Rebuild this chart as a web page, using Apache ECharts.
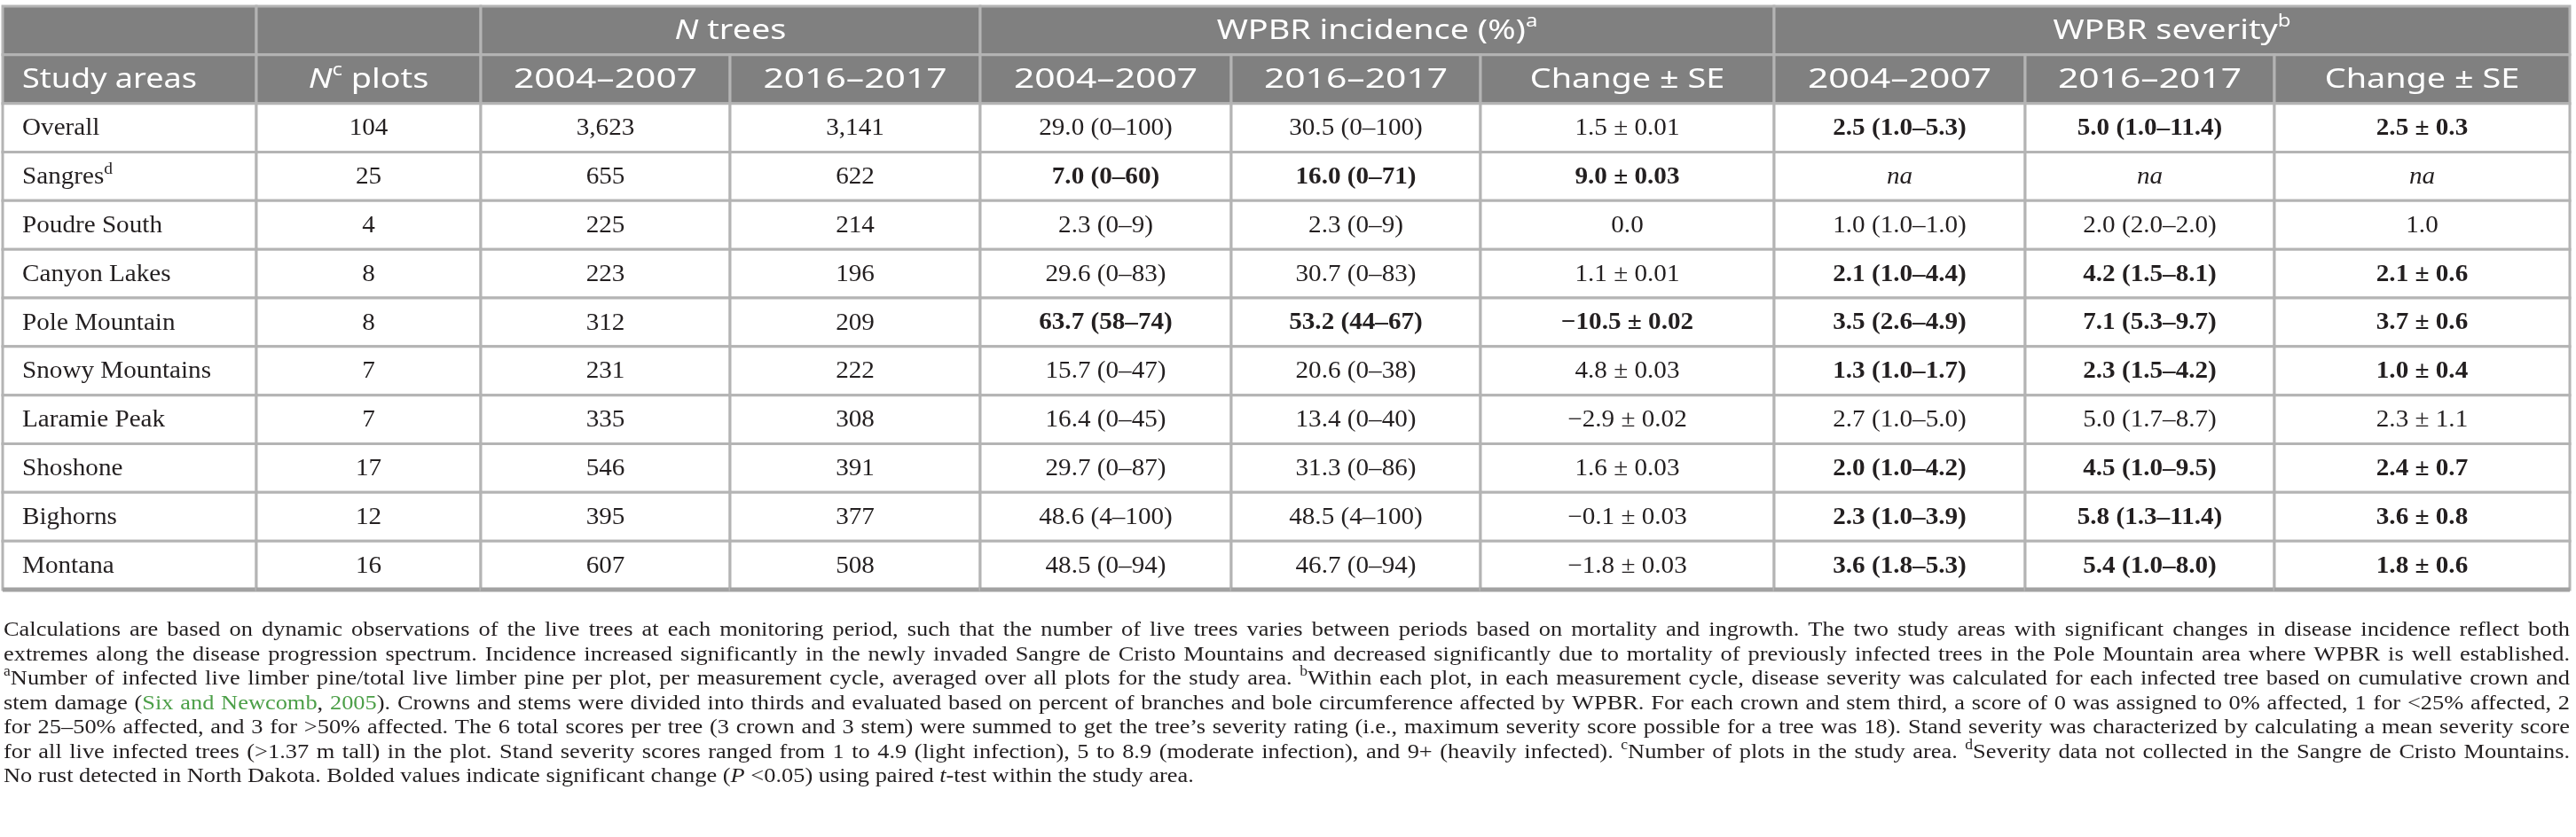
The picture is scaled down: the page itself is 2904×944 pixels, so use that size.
<!DOCTYPE html>
<html>
<head>
<meta charset="utf-8">
<script src="https://cdn.jsdelivr.net/npm/echarts@6/dist/echarts.min.js"></script>
<style>
  html, body { margin: 0; padding: 0; background: #fff; }
  #main { width: 2904px; height: 944px; }
</style>
</head>
<body>
<div id="main"></div>
<script>
// 表格数据
var areas = ['Overall', 'Sangres', 'Poudre South', 'Canyon Lakes', 'Pole Mountain', 'Snowy Mountains',
  'Laramie Peak', 'Shoshone', 'Bighorns', 'Montana'];
var areaNote = ['', 'd', '', '', '', '', '', '', '', ''];
var plots = [104, 25, 4, 8, 8, 7, 7, 17, 12, 16];
var trees0407 = [3623, 655, 225, 223, 312, 231, 335, 546, 395, 607];
var trees1617 = [3141, 622, 214, 196, 209, 222, 308, 391, 377, 508];

var inc0407 = [29.0, 7.0, 2.3, 29.6, 63.7, 15.7, 16.4, 29.7, 48.6, 48.5];
var inc0407Min = [0, 0, 0, 0, 58, 0, 0, 0, 4, 0];
var inc0407Max = [100, 60, 9, 83, 74, 47, 45, 87, 100, 94];
var inc1617 = [30.5, 16.0, 2.3, 30.7, 53.2, 20.6, 13.4, 31.3, 48.5, 46.7];
var inc1617Min = [0, 0, 0, 0, 44, 0, 0, 0, 4, 0];
var inc1617Max = [100, 71, 9, 83, 67, 38, 40, 86, 100, 94];
var incChange = [1.5, 9.0, 0.0, 1.1, -10.5, 4.8, -2.9, 1.6, -0.1, -1.8];
var incSE = [0.01, 0.03, null, 0.01, 0.02, 0.03, 0.02, 0.03, 0.03, 0.03];

var sev0407 = [2.5, null, 1.0, 2.1, 3.5, 1.3, 2.7, 2.0, 2.3, 3.6];
var sev0407Min = [1.0, null, 1.0, 1.0, 2.6, 1.0, 1.0, 1.0, 1.0, 1.8];
var sev0407Max = [5.3, null, 1.0, 4.4, 4.9, 1.7, 5.0, 4.2, 3.9, 5.3];
var sev1617 = [5.0, null, 2.0, 4.2, 7.1, 2.3, 5.0, 4.5, 5.8, 5.4];
var sev1617Min = [1.0, null, 2.0, 1.5, 5.3, 1.5, 1.7, 1.0, 1.3, 1.0];
var sev1617Max = [11.4, null, 2.0, 8.1, 9.7, 4.2, 8.7, 9.5, 11.4, 8.0];
var sevChange = [2.5, null, 1.0, 2.1, 3.7, 1.0, 2.3, 2.4, 3.6, 1.8];
var sevSE = [0.3, null, null, 0.6, 0.6, 0.4, 1.1, 0.7, 0.8, 0.6];

// 显著变化（加粗）
var boldInc = [0, 1, 0, 0, 1, 0, 0, 0, 0, 0];
var boldSev = [1, 0, 0, 1, 1, 1, 0, 1, 1, 1];

var groupHeads = ['{i|N} trees', 'WPBR incidence (%){sup|a}', 'WPBR severity{sup|b}'];
var colHeads = ['Study areas', '{i|N}{sup|c} plots', '2004–2007', '2016–2017', '2004–2007', '2016–2017',
  'Change ± SE', '2004–2007', '2016–2017', 'Change ± SE'];

// 布局
var colW = [286, 253, 281, 282, 283, 281, 331, 283, 281, 333];
var xEdge = [0];
colW.forEach(function (w) { xEdge.push(xEdge[xEdge.length - 1] + w); });
var BODY_SX = 1.08;
var SERIF = '"Liberation Serif", "Times New Roman", serif';
var SANS = '"Noto Sans", sans-serif';
var INK = '#231f20';

// 表头字体横向拉伸
function headSx(t) {
  if (/^\d{4}–\d{4}$/.test(t)) return 1.36;
  if (t === 'Study areas') return 1.2;
  return 1.26;
}

function fmtRange(m, lo, hi, d) {
  return m.toFixed(1) + ' (' + lo.toFixed(d) + '–' + hi.toFixed(d) + ')';
}
function fmtChange(v, se, d) {
  var s = (v < 0 ? '−' : '') + Math.abs(v).toFixed(1);
  return se == null ? s : s + ' ± ' + se.toFixed(d);
}

var cells = [];
// 表头第一行
cells.push({ c0: 0, c1: 1, r: 0, head: true, text: '' });
cells.push({ c0: 1, c1: 2, r: 0, head: true, text: '' });
cells.push({ c0: 2, c1: 4, r: 0, head: true, text: groupHeads[0] });
cells.push({ c0: 4, c1: 7, r: 0, head: true, text: groupHeads[1] });
cells.push({ c0: 7, c1: 10, r: 0, head: true, text: groupHeads[2] });
// 表头第二行
colHeads.forEach(function (t, i) {
  cells.push({ c0: i, c1: i + 1, r: 1, head: true, text: t, left: i === 0 });
});
// 数据行
areas.forEach(function (a, k) {
  var r = k + 2;
  var na = sev0407[k] == null;
  var row = [
    { text: a + (areaNote[k] ? '{sup|' + areaNote[k] + '}' : ''), left: true },
    { text: String(plots[k]) },
    { text: trees0407[k].toLocaleString('en-US') },
    { text: trees1617[k].toLocaleString('en-US') },
    { text: fmtRange(inc0407[k], inc0407Min[k], inc0407Max[k], 0), bold: boldInc[k] },
    { text: fmtRange(inc1617[k], inc1617Min[k], inc1617Max[k], 0), bold: boldInc[k] },
    { text: fmtChange(incChange[k], incSE[k], 2), bold: boldInc[k] },
    { text: na ? 'na' : fmtRange(sev0407[k], sev0407Min[k], sev0407Max[k], 1), bold: boldSev[k], italic: na },
    { text: na ? 'na' : fmtRange(sev1617[k], sev1617Min[k], sev1617Max[k], 1), bold: boldSev[k], italic: na },
    { text: na ? 'na' : fmtChange(sevChange[k], sevSE[k], 1), bold: boldSev[k], italic: na }
  ];
  row.forEach(function (c, i) {
    c.c0 = i; c.c1 = i + 1; c.r = r;
    cells.push(c);
  });
});

var richHead = {
  i: { fontFamily: SANS, fontSize: 30, fontStyle: 'italic', fill: '#fff', color: '#fff', lineHeight: 40 },
  sup: { fontFamily: SANS, fontSize: 19, fill: '#fff', color: '#fff', verticalAlign: 'top', lineHeight: 40 }
};
var richBody = {
  sup: { fontFamily: SERIF, fontSize: 18, fill: INK, color: INK, verticalAlign: 'top', lineHeight: 36 }
};

function renderCell(params, api) {
  var c = cells[params.dataIndex];
  var p0 = api.coord([api.value(0), api.value(2)]);
  var p1 = api.coord([api.value(1), api.value(2) + 1]);
  var x = p0[0], y = p0[1], w = p1[0] - p0[0], h = p1[1] - p0[1];
  var kids = [{
    type: 'rect',
    shape: { x: x, y: y, width: w, height: h },
    style: { fill: c.head ? '#808080' : '#fff', stroke: '#b4b4b4', lineWidth: 3 }
  }];
  if (c.text) {
    kids.push({
      type: 'text',
      x: c.left ? x + 22 : x + w / 2,
      y: y + h / 2 + 1,
      scaleX: c.head ? headSx(c.text) : BODY_SX,
      style: {
        text: c.text, x: 0, y: 0,
        align: c.left ? 'left' : 'center',
        verticalAlign: 'middle',
        fontFamily: c.head ? SANS : SERIF,
        fontSize: c.head ? 30 : 27,
        fontWeight: c.bold ? 'bold' : 'normal',
        fontStyle: c.italic ? 'italic' : 'normal',
        lineHeight: c.head ? 40 : 36,
        fill: c.head ? '#fff' : INK,
        rich: c.head ? richHead : richBody
      }
    });
  }
  if (c.r === 11) {
    kids.push({
      type: 'line',
      shape: { x1: x, y1: p1[1], x2: x + w, y2: p1[1] },
      style: { stroke: '#a2a2a2', lineWidth: 5 }
    });
  }
  return { type: 'group', children: kids };
}

// 表注
var notes = [
  [['n', 'Calculations are based on dynamic observations of the live trees at each monitoring period, such that the number of live trees varies between periods based on mortality and ingrowth. The two study areas with significant changes in disease incidence reflect both']],
  [['n', 'extremes along the disease progression spectrum. Incidence increased significantly in the newly invaded Sangre de Cristo Mountains and decreased significantly due to mortality of previously infected trees in the Pole Mountain area where WPBR is well established.']],
  [['sup', 'a'], ['n', 'Number of infected live limber pine/total live limber pine per plot, per measurement cycle, averaged over all plots for the study area. '], ['sup', 'b'], ['n', 'Within each plot, in each measurement cycle, disease severity was calculated for each infected tree based on cumulative crown and']],
  [['n', 'stem damage ('], ['g', 'Six and Newcomb'], ['n', ', '], ['g', '2005'], ['n', '). Crowns and stems were divided into thirds and evaluated based on percent of branches and bole circumference affected by WPBR. For each crown and stem third, a score of 0 was assigned to 0% affected, 1 for <25% affected, 2']],
  [['n', 'for 25–50% affected, and 3 for >50% affected. The 6 total scores per tree (3 crown and 3 stem) were summed to get the tree’s severity rating (i.e., maximum severity score possible for a tree was 18). Stand severity was characterized by calculating a mean severity score']],
  [['n', 'for all live infected trees (>1.37 m tall) in the plot. Stand severity scores ranged from 1 to 4.9 (light infection), 5 to 8.9 (moderate infection), and 9+ (heavily infected). '], ['sup', 'c'], ['n', 'Number of plots in the study area. '], ['sup', 'd'], ['n', 'Severity data not collected in the Sangre de Cristo Mountains.']],
  [['n', 'No rust detected in North Dakota. Bolded values indicate significant change ('], ['i', 'P'], ['n', ' <0.05) using paired '], ['i', 't'], ['n', '-test within the study area.']]
];
var NOTE_SIZE = 24, NOTE_X = 4, NOTE_W = 2893, NOTE_Y0 = 711, NOTE_STEP = 27.5, NOTE_SX = 1.1;

var ctx = document.createElement('canvas').getContext('2d');
function noteFont(st) {
  var size = st === 'sup' ? 16 : NOTE_SIZE;
  return (st === 'i' ? 'italic ' : '') + size + 'px ' + SERIF;
}
function measure(st, t) { ctx.font = noteFont(st); return ctx.measureText(t).width; }

var noteEls = [];
notes.forEach(function (runs, li) {
  var words = [[]];
  runs.forEach(function (run) {
    var parts = run[1].split(' ');
    parts.forEach(function (p, pi) {
      if (pi > 0) words.push([]);
      if (p) words[words.length - 1].push({ st: run[0], t: p });
    });
  });
  words = words.filter(function (w) { return w.length; });
  var spaceW = measure('n', ' ');
  var natural = 0;
  words.forEach(function (w) {
    w.forEach(function (pc) { pc.w = measure(pc.st, pc.t); natural += pc.w; });
  });
  natural += spaceW * (words.length - 1);
  var last = li === notes.length - 1;
  var sx = Math.min(NOTE_SX, NOTE_W / natural);
  var gap = last ? spaceW : spaceW + (NOTE_W / sx - natural) / (words.length - 1);
  var pos = 0;
  var y = NOTE_Y0 + li * NOTE_STEP;
  words.forEach(function (w) {
    w.forEach(function (pc) {
      noteEls.push({
        type: 'text', silent: true,
        x: NOTE_X + pos * sx, y: y + (pc.st === 'sup' ? -8 : 0), scaleX: sx,
        style: {
          text: pc.t, font: noteFont(pc.st),
          fill: pc.st === 'g' ? '#4c9f48' : INK,
          verticalAlign: 'middle', textVerticalAlign: 'middle'
        }
      });
      pos += pc.w;
    });
    pos += gap;
  });
});

var chart = echarts.init(document.getElementById('main'));
chart.setOption({
  animation: false,
  backgroundColor: '#fff',
  grid: { left: 3, right: 7, top: 7, bottom: 279 },
  xAxis: { type: 'value', min: 0, max: xEdge[xEdge.length - 1], show: false },
  yAxis: { type: 'value', min: 0, max: 12, inverse: true, show: false },
  graphic: { elements: noteEls },
  series: [{
    type: 'custom',
    renderItem: renderCell,
    data: cells.map(function (c) { return [xEdge[c.c0], xEdge[c.c1], c.r]; })
  }]
});
</script>
</body>
</html>
